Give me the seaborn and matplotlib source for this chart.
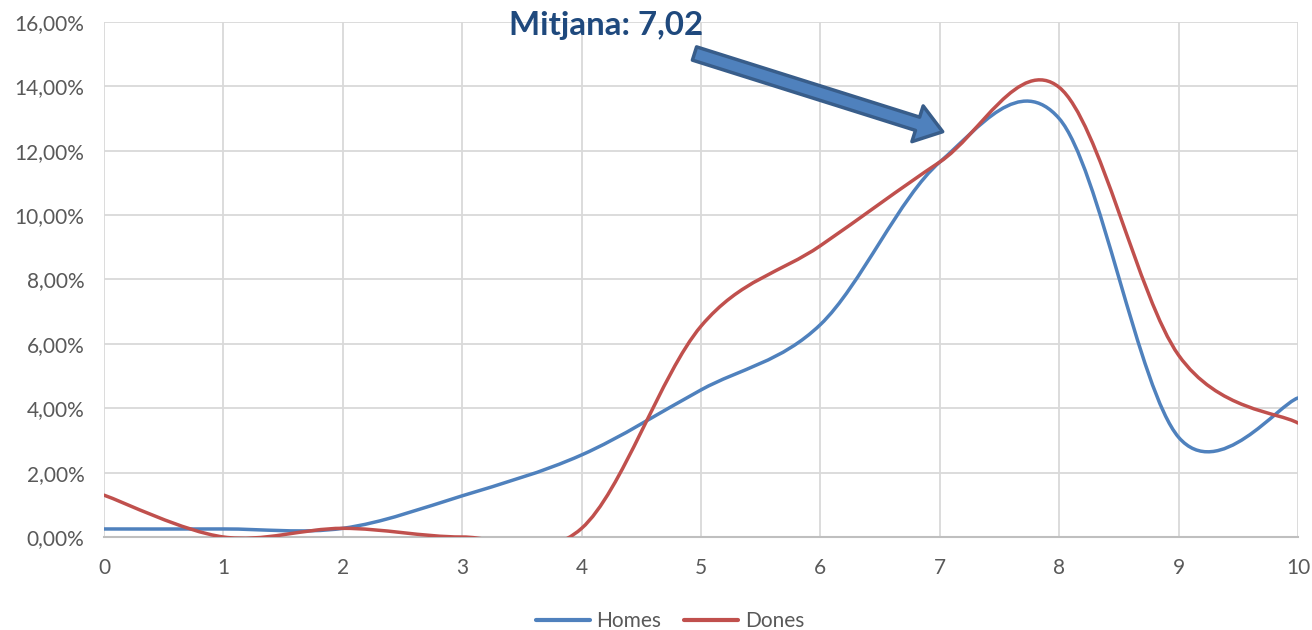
import matplotlib
matplotlib.use("Agg")
import matplotlib.pyplot as plt
import seaborn as sns
from matplotlib.path import Path
from matplotlib.patches import PathPatch, FancyArrowPatch
from matplotlib.lines import Line2D
from matplotlib.ticker import FuncFormatter, MultipleLocator

# Data (percent)
notes = [0, 1, 2, 3, 4, 5, 6, 7, 8, 9, 10]
homes = [0.25, 0.25, 0.27, 1.28, 2.55, 4.57, 6.6, 11.65, 13.0, 3.1, 4.32]
dones = [1.3, 0.0, 0.27, 0.0, 0.27, 6.55, 9.05, 11.65, 13.97, 5.65, 3.54]
series_names = ["Homes", "Dones"]
series_colors = ["#4F81BD", "#C0504D"]
mean_label = "Mitjana: 7,02"

sns.set_theme(style="whitegrid")
plt.rcParams["font.family"] = ["Lato", "DejaVu Sans"]


def smooth_path(xs, ys):
    # Excel-style smoothed line: cubic Bezier through the points
    n = len(xs)
    verts = [(xs[0], ys[0])]
    codes = [Path.MOVETO]
    for i in range(n - 1):
        x0, y0 = xs[max(i - 1, 0)], ys[max(i - 1, 0)]
        x1, y1 = xs[i], ys[i]
        x2, y2 = xs[i + 1], ys[i + 1]
        x3, y3 = xs[min(i + 2, n - 1)], ys[min(i + 2, n - 1)]
        c1 = (x1 + (x2 - x0) / 6, y1 + (y2 - y0) / 6)
        c2 = (x2 - (x3 - x1) / 6, y2 - (y3 - y1) / 6)
        verts += [c1, c2, (x2, y2)]
        codes += [Path.CURVE4] * 3
    return Path(verts, codes)


fig, ax = plt.subplots(figsize=(13.12, 6.3), dpi=100)
fig.subplots_adjust(left=0.0793, right=0.9893, bottom=0.1476, top=0.9651)

for ys, color in zip([homes, dones], series_colors):
    patch = PathPatch(smooth_path(notes, ys), facecolor="none", edgecolor=color,
                      lw=2.5, capstyle="round", joinstyle="round", zorder=3)
    ax.add_patch(patch)

ax.set_xlim(0, 10)
ax.set_ylim(0, 16)
ax.xaxis.set_major_locator(MultipleLocator(1))
ax.yaxis.set_major_locator(MultipleLocator(2))
ax.yaxis.set_major_formatter(FuncFormatter(lambda v, p: f"{v:.2f}".replace(".", ",") + "%"))
ax.grid(True, color="#D9D9D9", lw=1.3)
for s in ["left", "right", "top"]:
    ax.spines[s].set_visible(False)
ax.spines["bottom"].set_color("#BFBFBF")
ax.spines["bottom"].set_linewidth(1.5)
ax.tick_params(axis="both", length=0, labelsize=15, labelcolor="#595959")
ax.tick_params(axis="y", pad=14)
ax.tick_params(axis="x", pad=15)
ax.set_xlabel("")
ax.set_ylabel("")

handles = [Line2D([0], [0], color=c, lw=3) for c in series_colors]
fig.legend(handles, series_names, loc="center", bbox_to_anchor=(670 / 1312, 1 - 621 / 630),
           ncol=2, frameon=False, fontsize=15, labelcolor="#595959",
           handlelength=2.6, handletextpad=0.3, columnspacing=1.1)

# annotation arrow and label
arrow = FancyArrowPatch((694.5 / 1312, 1 - 53.5 / 630), (942.7 / 1312, 1 - 131.7 / 630),
                        transform=fig.transFigure,
                        arrowstyle="simple,head_length=19,head_width=27,tail_width=10",
                        mutation_scale=1, shrinkA=0, shrinkB=0,
                        facecolor="#4F81BD", edgecolor="#385D8A", lw=2.5, zorder=5)
fig.patches.append(arrow)
fig.text(509 / 1312, 1 - 35 / 630, mean_label, fontsize=23.8, fontweight="bold",
         color="#1F497D", va="baseline", ha="left")

plt.savefig("out.png", dpi=100)
